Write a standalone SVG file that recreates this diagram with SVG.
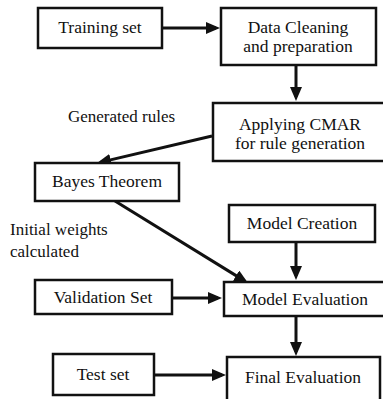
<svg xmlns="http://www.w3.org/2000/svg" width="383" height="399" viewBox="0 0 383 399">
<style>
.box{fill:#fff;stroke:#111;stroke-width:2.5}
.t{font-family:'Liberation Serif','DejaVu Serif',serif;font-size:17.5px;fill:#111;text-anchor:middle}
.l{font-family:'Liberation Serif','DejaVu Serif',serif;font-size:17px;fill:#111}
.c{stroke:#111;stroke-width:3;fill:none;marker-end:url(#ah)}
</style>
<defs>
<marker id="ah" markerUnits="userSpaceOnUse" markerWidth="14" markerHeight="12" refX="10" refY="6" orient="auto">
<path d="M0,0 L14,6 L0,12 z" fill="#111"/>
</marker>
</defs>
<rect width="383" height="399" fill="#fff"/>
<g id="connectors">
<line class="c" x1="163" y1="28" x2="216" y2="28"/>
<line class="c" x1="296" y1="66" x2="296" y2="97"/>
<line class="c" x1="212" y1="136" x2="100.9" y2="162.1"/>
<line class="c" x1="115" y1="201" x2="244.6" y2="280.9"/>
<line class="c" x1="296" y1="243" x2="296" y2="276"/>
<line class="c" x1="172" y1="298" x2="218" y2="298"/>
<line class="c" x1="296" y1="316" x2="296" y2="352"/>
<line class="c" x1="154" y1="375" x2="222" y2="375"/>
</g>
<g id="training">
<rect class="box" x="38" y="8" width="124" height="40"/>
<text class="t" x="100" y="33" font-family="Liberation Serif, serif">Training set</text>
</g>
<g id="cleaning">
<rect class="box" x="221" y="8" width="155" height="57"/>
<text class="t" x="298" y="33" font-family="Liberation Serif, serif">Data Cleaning</text>
<text class="t" x="298" y="52" font-family="Liberation Serif, serif">and preparation</text>
</g>
<g id="cmar">
<rect class="box" x="213" y="103" width="175" height="58"/>
<text class="t" x="300" y="130" font-family="Liberation Serif, serif">Applying CMAR</text>
<text class="t" x="300" y="149" font-family="Liberation Serif, serif">for rule generation</text>
</g>
<g id="label-rules">
<text class="l" x="68" y="122" font-family="Liberation Serif, serif">Generated rules</text>
</g>
<g id="bayes">
<rect class="box" x="35" y="163" width="144" height="38"/>
<text class="t" x="107" y="187" font-family="Liberation Serif, serif">Bayes Theorem</text>
</g>
<g id="label-weights">
<text class="l" x="10" y="235" font-family="Liberation Serif, serif">Initial weights</text>
<text class="l" x="10" y="257" font-family="Liberation Serif, serif">calculated</text>
</g>
<g id="creation">
<rect class="box" x="229" y="205" width="146" height="37"/>
<text class="t" x="302" y="229" font-family="Liberation Serif, serif">Model Creation</text>
</g>
<g id="validation">
<rect class="box" x="35" y="280" width="137" height="34"/>
<text class="t" x="103" y="303" font-family="Liberation Serif, serif">Validation Set</text>
</g>
<g id="evaluation">
<rect class="box" x="224" y="282" width="165" height="34"/>
<text class="t" x="305" y="305" font-family="Liberation Serif, serif">Model Evaluation</text>
</g>
<g id="test">
<rect class="box" x="53" y="354" width="101" height="41"/>
<text class="t" x="103" y="380" font-family="Liberation Serif, serif">Test set</text>
</g>
<g id="final">
<rect class="box" x="227" y="357" width="153" height="50"/>
<text class="t" x="303" y="383" font-family="Liberation Serif, serif">Final Evaluation</text>
</g>
</svg>
